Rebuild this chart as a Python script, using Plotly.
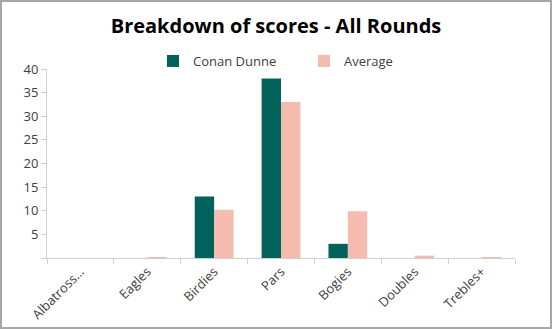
import plotly.graph_objects as go

# Score breakdown per hole outcome
categories = ["Albatross…", "Eagles", "Birdies", "Pars", "Bogies", "Doubles", "Trebles+"]
conan_dunne = [0, 0, 13, 38, 3, 0, 0]
average = [0, 0.2, 10.2, 33.0, 9.9, 0.5, 0.2]
y_ticks = [0, 5, 10, 15, 20, 25, 30, 35, 40]
y_tick_text = ["", "5", "10", "15", "20", "25", "30", "35", "40"]

W, H = 552, 329
ML, MR, MT, MB = 47, 37, 69, 71
pw, ph = W - ML - MR, H - MT - MB

fig = go.Figure()
fig.add_trace(go.Bar(name="Conan Dunne", x=categories, y=conan_dunne,
                     marker=dict(color="#00625A", line=dict(width=0))))
fig.add_trace(go.Bar(name="Average", x=categories, y=average,
                     marker=dict(color="#F4BBAE", line=dict(width=0))))

axis_grey = "#D0D0D0"
font_main = "Open Sans"
label_col = "#404040"

fig.update_layout(
    width=W, height=H,
    margin=dict(l=ML, r=MR, t=MT, b=MB, pad=0, autoexpand=False),
    paper_bgcolor="white", plot_bgcolor="white",
    barmode="group", bargap=0.42, bargroupgap=0,
    title=dict(text="<b>Breakdown of scores - All Rounds</b>",
               x=0.5, xanchor="center", y=1 - 26 / H, yanchor="middle",
               font=dict(family=font_main, size=20, color="#000000")),
    font=dict(family=font_main, size=13, color=label_col),
    legend=dict(orientation="h", x=(153 - ML) / pw, xanchor="left",
                y=(MT + ph - 61) / ph, yanchor="middle",
                font=dict(family=font_main, size=13, color=label_col),
                entrywidth=106, entrywidthmode="pixels",
                itemwidth=30, bgcolor="rgba(0,0,0,0)"),
    showlegend=True,
    xaxis=dict(showline=True, linecolor=axis_grey, linewidth=1,
               ticks="outside", tickcolor=axis_grey, ticklen=5,
               tickson="boundaries", tickangle=-45, showgrid=False,
               automargin=False,
               tickfont=dict(family=font_main, size=13, color=label_col)),
    yaxis=dict(range=[0, 40], tickvals=y_ticks, ticktext=y_tick_text,
               showline=True, linecolor=axis_grey, linewidth=1,
               ticks="outside", tickcolor=axis_grey, ticklen=5,
               showgrid=False, zeroline=False, automargin=False,
               tickfont=dict(family=font_main, size=13, color=label_col)),
)

# Outer frame around the chart
fig.add_shape(type="rect", xref="paper", yref="paper",
              x0=(1 - ML) / pw, x1=(W - 1 - ML) / pw,
              y0=(MT + ph - (H - 1)) / ph, y1=(MT + ph - 1) / ph,
              line=dict(color="#A6A6A6", width=2), fillcolor="rgba(0,0,0,0)",
              layer="below")

fig.write_html("out.html")
